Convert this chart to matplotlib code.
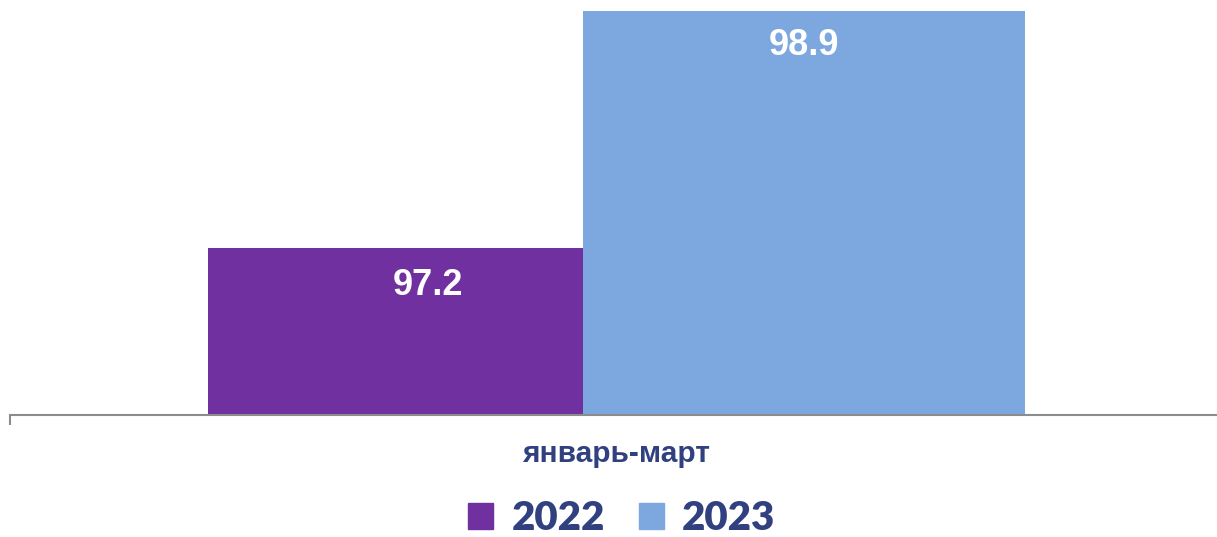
import matplotlib
matplotlib.use("Agg")
import matplotlib.pyplot as plt
from matplotlib.patches import Patch

# Data
category = "январь-март"
years = ["2022", "2023"]
values = [97.2, 98.9]
colors = ["#7030A0", "#7CA8DF"]
text_color = "#31407F"

fig = plt.figure(figsize=(12.17, 5.37), dpi=100)
ax = fig.add_axes([10 / 1217, 122 / 537, 1207 / 1217, 415 / 537])

# bar left edges / widths relative to category centre (axis units)
lefts = [-0.3384, -0.0278]
widths = [0.3107, 0.3662]
ymin = 96.0

for i in range(len(values)):
    ax.bar(lefts[i], values[i] - ymin, width=widths[i], bottom=ymin,
           align="edge", color=colors[i], label=years[i])

# value labels
label_x = [-0.1565, 0.1553]
label_y = [values[0] - 0.27, values[1] - 0.25]
for i in range(len(values)):
    ax.text(label_x[i], label_y[i], f"{values[i]:.1f}", ha="center", va="center",
            color="white", fontsize=26, fontweight="bold", family="Liberation Sans")

ax.set_xlim(-0.5025, 0.4975)
ax.set_ylim(ymin, 98.98)

for s in ["top", "right", "left"]:
    ax.spines[s].set_visible(False)
ax.spines["bottom"].set_color("#8C8C8C")
ax.spines["bottom"].set_linewidth(1.5)
ax.set_yticks([])

ax.set_xticks([0])
ax.set_xticklabels([category], fontsize=21.5, fontweight="bold",
                   color=text_color, family="Liberation Sans")
ax.tick_params(axis="x", which="major", length=0, pad=18)
ax.set_xticks([-0.5025], minor=True)
ax.tick_params(axis="x", which="minor", length=7, width=1.5, color="#8C8C8C")

handles = [Patch(color=c) for c in colors]
fig.legend(handles, years, loc="center", bbox_to_anchor=(622 / 1217, 1 - 519 / 537),
           ncol=2, frameon=False, handlelength=0.62, handleheight=0.62,
           handletextpad=0.45, columnspacing=0.85,
           prop={"family": "Lato", "weight": "heavy", "size": 29},
           labelcolor=text_color)

fig.savefig("out.png", dpi=100)
